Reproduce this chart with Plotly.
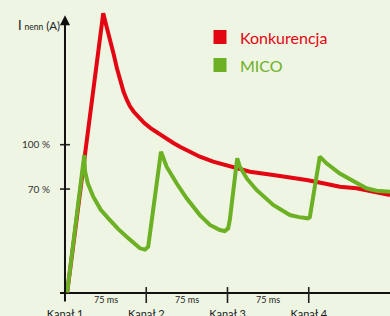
import plotly.graph_objects as go

# ---- data (time in ms, current in % of nominal) ----
konk_t = [2, 35.3, 38, 41.5, 45, 48, 51, 54, 57, 60, 63.5, 68, 73, 79, 86, 93, 100, 106.1,
          115.3, 124.5, 136.8, 155.3, 170.7, 192.2, 209, 223, 238.3, 253.7, 269.1, 285, 300]
konk_v = [0, 188.9, 181, 172, 161, 151.5, 143, 136, 130.5, 126, 122.3, 118.3, 114.8, 111.2, 107.6, 104.5, 101.2, 98.6,
          95.3, 91.9, 88.5, 85.1, 81.7, 79.5, 77.8, 76.1, 73.9, 71.6, 70.5, 68.2, 66]

mico_t = [2, 17.8, 18.5, 21, 26.1, 33, 41.5, 49, 56.9, 63, 69.2, 73.8, 76.8, 88.6,
          93.8, 103, 112.3, 124.5, 133.8, 143, 147.6, 150.6, 152.2, 159,
          161.4, 168, 176.8, 192.2, 207.6, 216, 224.4, 226, 235.2, 241.4, 253.7, 266, 278.3, 287.5, 300]
mico_v = [0, 93, 82, 74, 64.8, 56, 49, 43, 37.8, 33.5, 29.9, 29, 31, 95.3,
          85.1, 73.9, 63.7, 52.4, 45.7, 42.3, 41.6, 43.4, 49.4, 90.8,
          85.1, 77, 69.4, 59.2, 52.4, 51, 50.2, 51, 91.9, 87.4, 80.5, 75.5, 70.5, 68.9, 68.2]

x_tickvals = [0, 75, 150, 225]
x_ticktext = ["Kanał 1", "Kanał 2", "Kanał 3", "Kanał 4"]
interval_labels = ["75 ms", "75 ms", "75 ms"]
y_tickvals = [70, 100]
y_ticktext = ["70 %", "100 %"]
series_names = ["Konkurencja", "MICO"]

RED = "#e30613"
GREEN = "#6cb023"
BG = "#eef5e3"
FONT = "Lato"

X_RANGE = [-4.6, 300]
Y_RANGE = [-7.1, 197.9]

fig = go.Figure()
fig.add_trace(go.Scatter(x=konk_t, y=konk_v, mode="lines", name=series_names[0],
                         line=dict(color=RED, width=4), showlegend=False))
fig.add_trace(go.Scatter(x=mico_t, y=mico_v, mode="lines", name=series_names[1],
                         line=dict(color=GREEN, width=4), showlegend=False))

W, H = 390, 316
ml, mr, mt, mb = 60, 0, 0, 13
pw, ph = W - ml - mr, H - mt - mb

def px2paper_x(px):
    return (px - ml) / pw

def px2paper_y(py):
    return (H - mb - py) / ph

shapes = []
# x ticks crossing the axis
for tv in x_tickvals[1:]:
    shapes.append(dict(type="line", xref="x", yref="y", x0=tv, x1=tv, y0=Y_RANGE[0], y1=3.7,
                       line=dict(color="#222", width=1.6)))
# y ticks crossing the axis
for tv in y_tickvals:
    shapes.append(dict(type="line", xref="x", yref="y", x0=X_RANGE[0], x1=4.6, y0=tv, y1=tv,
                       line=dict(color="#222", width=1.6)))
# legend squares
for i, col in enumerate([RED, GREEN]):
    yc = [37, 65][i]
    shapes.append(dict(type="rect", xref="paper", yref="paper",
                       x0=px2paper_x(213.5), x1=px2paper_x(226.5),
                       y0=px2paper_y(yc + 7), y1=px2paper_y(yc - 7),
                       fillcolor=col, line=dict(width=0)))

annotations = []
# y axis with arrow
annotations.append(dict(x=0, y=187.5, ax=0, ay=Y_RANGE[0], xref="x", yref="y", axref="x", ayref="y",
                        text="", showarrow=True, arrowhead=2, arrowsize=1, arrowwidth=2,
                        arrowcolor="#111", standoff=0, startstandoff=0))
# interval labels
for i, lab in enumerate(interval_labels):
    annotations.append(dict(x=(x_tickvals[i] + x_tickvals[i + 1]) / 2, y=-4.6, xref="x", yref="y",
                            text=lab, showarrow=False, font=dict(family=FONT, size=9, color="#222"),
                            xanchor="center", yanchor="middle"))
# y axis title
annotations.append(dict(x=px2paper_x(16), y=px2paper_y(25), xref="paper", yref="paper",
                        text="<span style='font-size:13px'>I</span> <span style='font-size:8.5px'>nenn</span> (A)",
                        showarrow=False,
                        font=dict(family=FONT, size=11.5, color="#222"), xanchor="left", yanchor="middle"))
# legend text
for i, (name, col) in enumerate(zip(series_names, [RED, GREEN])):
    yc = [37, 65][i]
    annotations.append(dict(x=px2paper_x(238), y=px2paper_y(yc), xref="paper", yref="paper",
                            text=name, showarrow=False, font=dict(family=FONT, size=16, color=col),
                            xanchor="left", yanchor="middle"))

fig.update_layout(
    width=W, height=H,
    margin=dict(l=ml, r=mr, t=mt, b=mb, pad=0),
    paper_bgcolor=BG, plot_bgcolor=BG,
    shapes=shapes, annotations=annotations,
    xaxis=dict(range=X_RANGE, showgrid=False, zeroline=False, showline=False,
               tickvals=x_tickvals, ticktext=x_ticktext, ticks="",
               tickfont=dict(family=FONT, size=11, color="#222"),
               ticklabelstandoff=3, automargin=False, fixedrange=True),
    yaxis=dict(range=Y_RANGE, showgrid=False, zeroline=True, zerolinecolor="#111", zerolinewidth=2,
               showline=False, tickvals=y_tickvals, ticktext=y_ticktext, ticks="",
               tickfont=dict(family=FONT, size=10, color="#333"),
               ticklabelstandoff=9, automargin=False, fixedrange=True),
    showlegend=False,
)

fig.write_html(
    "out.html",
    config={"displayModeBar": False},
    post_script=("document.body.style.margin='0';document.body.style.padding='0';"
                 "document.body.style.overflow='hidden';"
                 "document.body.style.background='" + BG + "';"),
)
